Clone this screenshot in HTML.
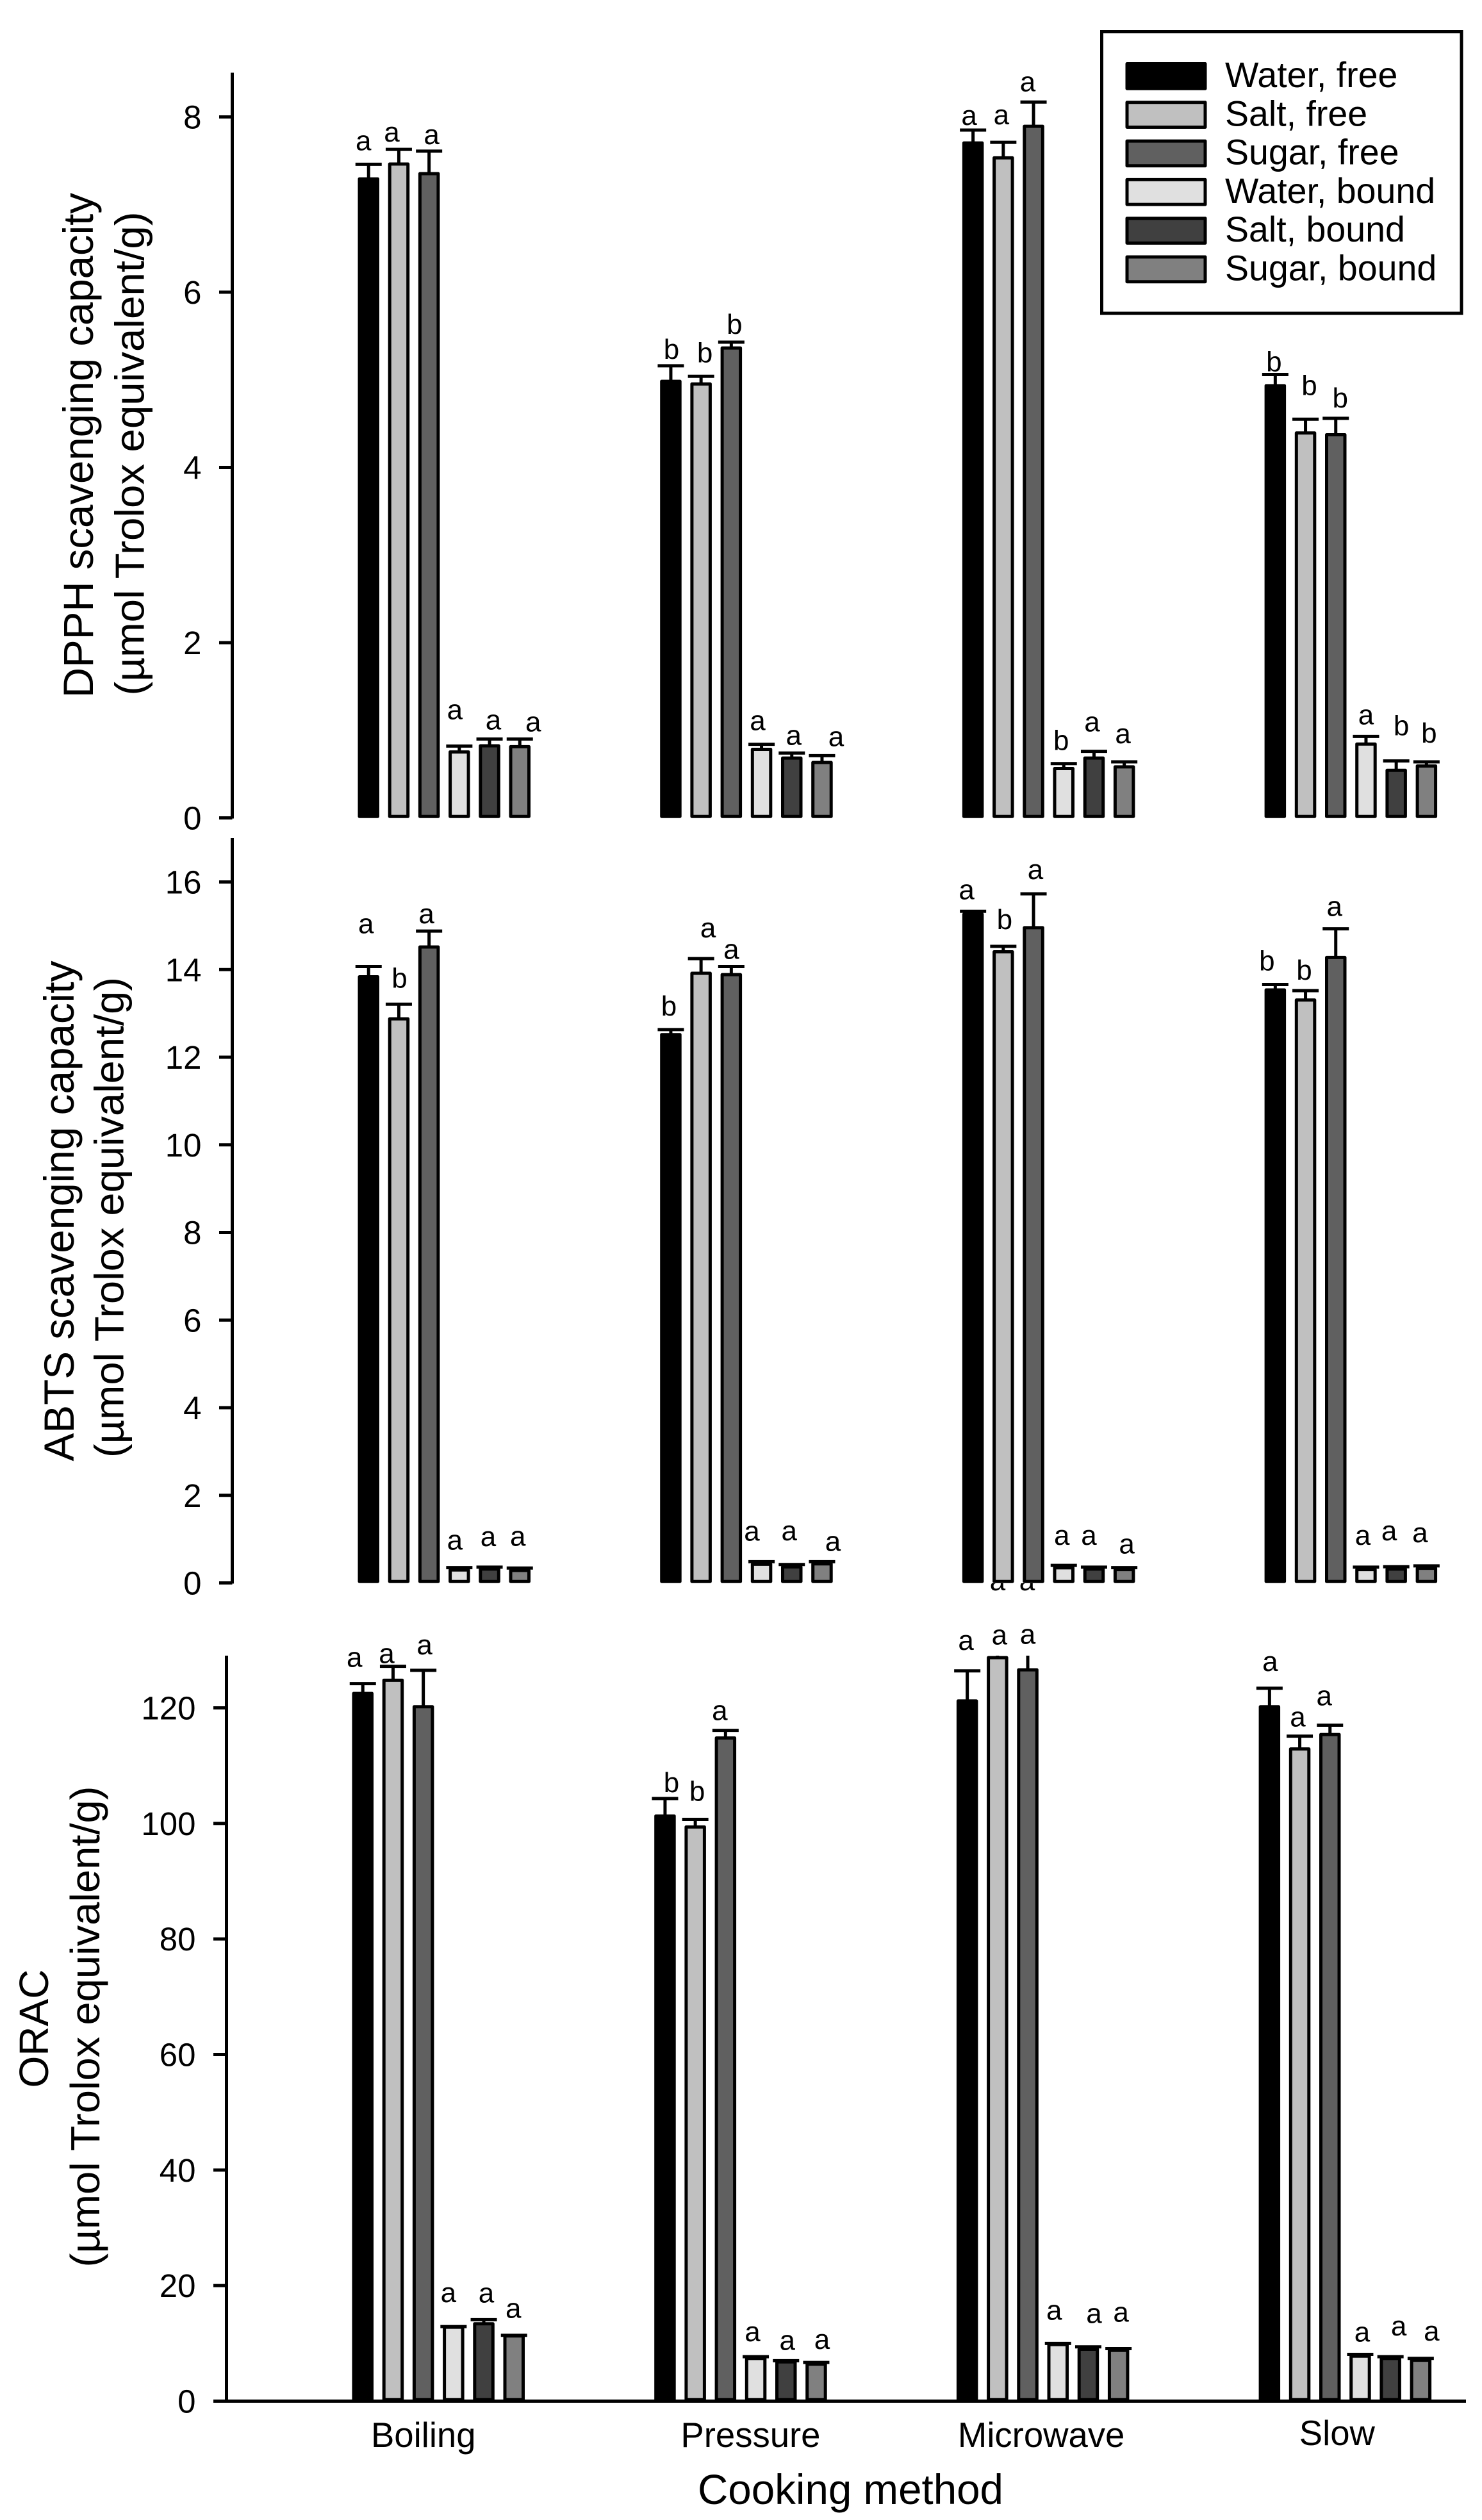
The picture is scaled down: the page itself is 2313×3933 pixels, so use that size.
<!DOCTYPE html>
<html lang="en">
<head>
<meta charset="utf-8">
<title>Antioxidant capacity by cooking method</title>
<style>
html,body{margin:0;padding:0;background:#fff;width:2313px;height:3933px;overflow:hidden}
svg{display:block}
text{font-family:"Liberation Sans",Arial,sans-serif;fill:#000}
</style>
</head>
<body>
<svg id="chart" xmlns="http://www.w3.org/2000/svg" width="2313" height="3933" viewBox="0 0 2313 3933">
  <defs>
    <clipPath id="orac-clip"><rect x="0" y="2584" width="2313" height="1349"/></clipPath>
    <clipPath id="orphan-clip"><rect x="1500" y="2471" width="200" height="30"/></clipPath>
  </defs>
  <g id="marks"></g>

  <g>
    <text transform="translate(145,695) rotate(-90)" text-anchor="middle" font-size="66" textLength="788" lengthAdjust="spacingAndGlyphs">DPPH scavenging capacity</text>
    <text transform="translate(224.5,708) rotate(-90)" text-anchor="middle" font-size="64" textLength="755" lengthAdjust="spacingAndGlyphs">(µmol Trolox equivalent/g)</text>
  </g>
  <g>
    <text transform="translate(115,1890) rotate(-90)" text-anchor="middle" font-size="66" textLength="781" lengthAdjust="spacingAndGlyphs">ABTS scavenging capacity</text>
    <text transform="translate(192.5,1900) rotate(-90)" text-anchor="middle" font-size="64" textLength="750" lengthAdjust="spacingAndGlyphs">(µmol Trolox equivalent/g)</text>
  </g>
  <g>
    <text transform="translate(75,3166) rotate(-90)" text-anchor="middle" font-size="64" textLength="185" lengthAdjust="spacingAndGlyphs">ORAC</text>
    <text transform="translate(155,3163) rotate(-90)" text-anchor="middle" font-size="64" textLength="751" lengthAdjust="spacingAndGlyphs">(µmol Trolox equivalent/g)</text>
  </g>

  <g clip-path="url(#orphan-clip)">
    <text x="1557" y="2482" text-anchor="middle" font-size="44">a</text>
    <text x="1603" y="2482" text-anchor="middle" font-size="44">a</text>
  </g>

  <text x="1327.5" y="3908" text-anchor="middle" font-size="65.5">Cooking method</text>

  <g id="legend">
    <rect x="1719.5" y="49.5" width="561.5" height="439.5" fill="#fff" stroke="#000" stroke-width="5"/>
  </g>
</svg>

<script>
// Shared categories and series
const categories = ['Boiling', 'Pressure', 'Microwave', 'Slow'];
const seriesNames = ['Water, free', 'Salt, free', 'Sugar, free', 'Water, bound', 'Salt, bound', 'Sugar, bound'];
const seriesFills = ['#000000', '#c0c0c0', '#606060', '#e0e0e0', '#404040', '#808080'];

// DPPH scavenging capacity: one row per cooking method, one value per series
const dpphTicks = [0, 2, 4, 6, 8];
const dpphMeans = [
  [7.30, 7.47, 7.36, 0.76, 0.83, 0.82],
  [4.99, 4.96, 5.37, 0.79, 0.69, 0.64],
  [7.71, 7.54, 7.90, 0.57, 0.69, 0.59],
  [4.94, 4.40, 4.38, 0.85, 0.55, 0.60]
];
const dpphErrorTops = [
  [7.46, 7.63, 7.61, 0.82, 0.90, 0.90],
  [5.16, 5.04, 5.43, 0.84, 0.74, 0.71],
  [7.85, 7.71, 8.17, 0.62, 0.76, 0.64],
  [5.06, 4.55, 4.56, 0.93, 0.65, 0.64]
];
const dpphLetters = [
  ['a', 'a', 'a', 'a', 'a', 'a'],
  ['b', 'b', 'b', 'a', 'a', 'a'],
  ['a', 'a', 'a', 'b', 'a', 'a'],
  ['b', 'b', 'b', 'a', 'b', 'b']
];

// ABTS scavenging capacity
const abtsTicks = [0, 2, 4, 6, 8, 10, 12, 14, 16];
const abtsMeans = [
  [13.85, 12.89, 14.53, 0.31, 0.33, 0.30],
  [12.53, 13.93, 13.90, 0.44, 0.38, 0.45],
  [15.28, 14.42, 14.97, 0.36, 0.33, 0.32],
  [13.55, 13.32, 14.29, 0.32, 0.33, 0.35]
];
const abtsErrorTops = [
  [14.07, 13.21, 14.88, 0.35, 0.36, 0.34],
  [12.63, 14.25, 14.07, 0.485, 0.42, 0.485],
  [15.33, 14.53, 15.73, 0.40, 0.36, 0.35],
  [13.66, 13.52, 14.93, 0.36, 0.37, 0.39]
];
const abtsLetters = [
  ['a', 'b', 'a', 'a', 'a', 'a'],
  ['b', 'a', 'a', 'a', 'a', 'a'],
  ['a', 'b', 'a', 'a', 'a', 'a'],
  ['b', 'b', 'a', 'a', 'a', 'a']
];

// ORAC
const oracTicks = [0, 20, 40, 60, 80, 100, 120];
const oracMeans = [
  [122.6, 124.9, 120.3, 12.9, 13.5, 11.4],
  [101.4, 99.5, 114.9, 7.5, 6.9, 6.5],
  [121.3, 128.8, 126.7, 9.9, 9.1, 8.9],
  [120.3, 113.0, 115.5, 7.9, 7.5, 7.2]
];
const oracErrorTops = [
  [124.2, 127.2, 126.5, 12.9, 14.1, 11.4],
  [104.3, 100.7, 116.1, 7.7, 7.0, 6.7],
  [126.4, 131.0, 130.0, 10.0, 9.4, 9.1],
  [123.4, 115.1, 117.0, 8.1, 7.7, 7.4]
];
const oracLetters = [
  ['a', 'a', 'a', 'a', 'a', 'a'],
  ['b', 'b', 'a', 'a', 'a', 'a'],
  ['a', 'a', 'a', 'a', 'a', 'a'],
  ['a', 'a', 'a', 'a', 'a', 'a']
];

// Hand placement of the significance letters, relative to each bar's centre and error cap
const dpphLetterNudgeX = [[-8,-11,4,-7,6,21],[1,6,5,-6,3,22],[-6,-3,-9,-4,-3,-2],[-2,6,7,0,8,4]];
const dpphLetterNudgeY = [[-22,-12,-11,-42,-15,-12],[-11,-22,-13,-22,-13,-15],[-8,-28,-17,-21,-31,-29],[-5,-38,-17,-19,-40,-30]];
const abtsLetterNudgeX = [[-4,1,-4,-7,-2,-3],[-3,11,0,-15,-4,17],[-10,2,3,-3,-8,4],[-13,-2,-2,-5,-11,-10]];
const abtsLetterNudgeY = [[-52,-26,-12,-28,-33,-35],[-22,-33,-12,-33,-38,-17],[-19,-27,-23,-32,-35,-22],[-22,-17,-20,-35,-41,-37]];
const oracLetterNudgeX = [[-13,-10,2,-8,4,-1],[10,3,-9,-5,2,9],[-2,3,0,-6,9,4],[1,-3,-9,3,13,17]];
const oracLetterNudgeY = [[-26,-5,-25,-38,-27,-27],[-10,-29,-16,-24,-17,-21],[-33,0,-10,-37,-37,-42],[-27,-15,-31,-20,-33,-28]];
const categoryNudgeX = [-24, 15, -3, -13];
const categoryNudgeY = [0, 0, 0, -3];

const SVG_NS = 'http://www.w3.org/2000/svg';
const BAR_W = 33.5, BAR_STEP = 47.2, GROUP_STEP = 471.7, CAP_W = 41, STROKE = 5;

function make(parent, tag, attrs, text) {
  const el = document.createElementNS(SVG_NS, tag);
  for (const k in attrs) el.setAttribute(k, attrs[k]);
  if (text !== undefined) el.textContent = text;
  parent.appendChild(el);
  return el;
}

function yScale(panel) {
  return function (v) { return panel.y0 - v * panel.pxPerUnit; };
}

function barLeft(panel, g, s) {
  return panel.left + g * GROUP_STEP + s * BAR_STEP;
}

function drawAxis(root, panel) {
  const y = yScale(panel);
  const axisG = make(root, 'g', {});
  
  

  const line = make(axisG, 'line', { x1: panel.axisX, x2: panel.axisX, y1: panel.axisTop, y2: panel.y0 + 1, stroke: '#000', 'stroke-width': STROKE });
  
  

  panel.ticks.forEach(function (t) {
    const tick = make(axisG, 'line', { x1: panel.axisX - 20.5, x2: panel.axisX, y1: y(t), y2: y(t), stroke: '#000', 'stroke-width': STROKE });
    
    
    const label = make(axisG, 'text', { x: panel.axisX - 48, y: y(t) + 18, 'text-anchor': 'end', 'font-size': 51 }, String(t));
    
    
  });
}

function drawBars(root, panel) {
  const y = yScale(panel);
  const seriesG = make(root, 'g', {});
  
  

  panel.means.forEach(function (row, g) {
    row.forEach(function (value, s) {
      const left = barLeft(panel, g, s);
      const cx = left + BAR_W / 2;
      const top = y(value);
      const errTop = y(panel.errorTops[g][s]);

      const errG = make(seriesG, 'g', panel.clip ? { 'clip-path': panel.clip } : {});
      
      
      make(errG, 'line', { x1: cx, x2: cx, y1: top + 2, y2: errTop, stroke: '#000', 'stroke-width': STROKE });
      make(errG, 'line', { x1: cx - CAP_W / 2, x2: cx + CAP_W / 2, y1: errTop, y2: errTop, stroke: '#000', 'stroke-width': STROKE });

      const bar = make(seriesG, 'rect', {
        x: left + STROKE / 2,
        y: top + 1,
        width: BAR_W - STROKE,
        height: Math.max(0, panel.y0 - top - 3.3),
        fill: seriesFills[s],
        stroke: '#000',
        'stroke-width': STROKE,
        'stroke-linejoin': 'round'
      });
      
      

      const letter = make(seriesG, 'text', {
        x: cx + panel.nudgeX[g][s],
        y: errTop + panel.nudgeY[g][s],
        'text-anchor': 'middle',
        'font-size': 44
      }, panel.letters[g][s]);
      
      
    });
  });
}

const panels = [
  { key: 'dpph', axisX: 362.5, axisTop: 113.5, y0: 1276.5, pxPerUnit: 136.75, left: 558.5, ticks: dpphTicks, means: dpphMeans, errorTops: dpphErrorTops, letters: dpphLetters, nudgeX: dpphLetterNudgeX, nudgeY: dpphLetterNudgeY },
  { key: 'abts', axisX: 362.5, axisTop: 1308, y0: 2470.5, pxPerUnit: 68.375, left: 558.5, ticks: abtsTicks, means: abtsMeans, errorTops: abtsErrorTops, letters: abtsLetters, nudgeX: abtsLetterNudgeX, nudgeY: abtsLetterNudgeY },
  { key: 'orac', axisX: 353.5, axisTop: 2584, y0: 3747.5, pxPerUnit: 9.0167, left: 549.5, ticks: oracTicks, means: oracMeans, errorTops: oracErrorTops, letters: oracLetters, nudgeX: oracLetterNudgeX, nudgeY: oracLetterNudgeY, clip: 'url(#orac-clip)' }
];

const root = document.getElementById('marks');
panels.forEach(function (panel) {
  drawAxis(root, panel);
  drawBars(root, panel);
});

// Shared x axis under the ORAC panel
const xAxisGroup = make(root, 'g', {});


const xLine = make(xAxisGroup, 'line', { x1: 333, x2: 2288, y1: 3747.5, y2: 3747.5, stroke: '#000', 'stroke-width': STROKE });


categories.forEach(function (name, g) {
  const groupCentre = 550 + g * GROUP_STEP + (5 * BAR_STEP + BAR_W) / 2;
  const label = make(xAxisGroup, 'text', {
    x: groupCentre + categoryNudgeX[g],
    y: 3819 + categoryNudgeY[g],
    'text-anchor': 'middle',
    'font-size': 54.5
  }, name);
  
  
});

// Legend rows
const legend = document.getElementById('legend');
seriesNames.forEach(function (name, i) {
  const rowTop = 97 + i * 60.3;
  const entry = make(legend, 'g', {});
  
  
  const swatch = make(entry, 'rect', { x: 1759, y: rowTop + 2.5, width: 122, height: 38.7, fill: seriesFills[i], stroke: '#000', 'stroke-width': STROKE, 'stroke-linejoin': 'round' });
  
  
  const label = make(entry, 'text', { x: 1912, y: rowTop + 39, 'font-size': 55.5 }, name);
  
  
});
</script>
</body>
</html>
